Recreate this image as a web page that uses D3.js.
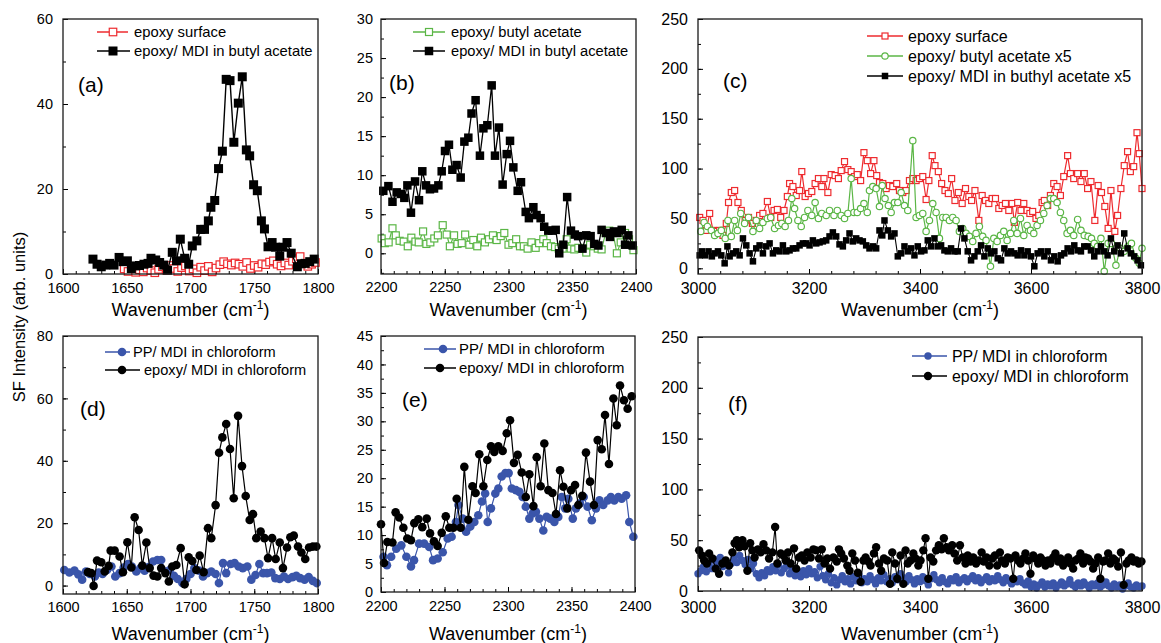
<!DOCTYPE html>
<html>
<head>
<meta charset="utf-8">
<script src="https://cdn.jsdelivr.net/npm/d3@7"></script>
<style>
body { margin: 0; background: #fff; }
svg text { font-family: "Liberation Sans", Arial, sans-serif; }
</style>
</head>
<body>
<svg id="chart" width="1161" height="643"></svg>
<script>
// ---------- data ----------
// (a) 1600-1800 cm-1
var aRedX = [1648,1651,1654,1657,1660,1663,1666,1669,1672,1675,1678,1681,1684,1687,1690,1693,1696,1699,1702,1705,1708,1711,1714,1717,1720,1723,1726,1729,1732,1735,1738,1741,1744,1747,1750,1753,1756,1759,1762,1765,1768,1771,1774,1777,1780,1783,1786,1789,1792,1795,1798];
var aRedY = [1.2,0.6,1.3,0.4,1.0,0.5,1.4,0.8,0.3,1.1,1.7,0.9,2.0,1.3,0.6,1.5,1.9,0.7,1.2,0.3,1.6,0.8,1.8,0.5,1.4,2.2,2.9,2.4,2.1,2.6,2.3,1.8,2.7,1.3,2.0,1.6,2.4,2.2,2.8,3.1,2.3,1.9,2.6,2.1,3.0,3.6,4.1,2.5,1.8,2.3,2.7];
var aBlackX = [1623.5,1626.7,1630,1633.5,1636.6,1640,1644,1647,1650.5,1653.6,1657,1660,1663.5,1666.7,1669,1672.7,1675.8,1679,1682,1685.7,1689,1692,1695.4,1698.6,1701.4,1705,1708,1711,1714,1716,1719,1722,1725,1728,1731,1734,1737.5,1740.6,1743.8,1746.4,1749.5,1752.4,1755.6,1758,1760.8,1764,1766.8,1770,1772.5,1775.7,1779,1783.8,1787,1790,1793.5,1797];
var aBlackY = [3.5,2.3,1.7,2.1,2.5,2.1,3.9,2.9,3.1,1.3,1.9,2.0,2.3,2.5,3.7,3.3,2.7,2.1,0.9,5.1,3.1,8.2,3.7,2.3,6.6,7.8,10.5,10.5,12.5,15.7,17.3,24.8,28.9,45.8,45.5,31.0,40.2,46.4,29.2,27.8,21.0,19.6,12.5,10.6,6.4,7.4,6.3,4.2,6.3,7.4,4.9,1.7,2.4,2.5,2.9,3.5];

// (b) 2200-2400 cm-1
var bGreenX = [2200.5,2203,2206,2209,2211.6,2214.6,2217.8,2221,2223.8,2227,2229.6,2233,2235.6,2238.7,2241.8,2244.6,2248.4,2251.5,2254,2257.3,2260,2263.3,2266,2269.3,2272.4,2275.5,2278.4,2281.5,2284.7,2287.8,2290.7,2293.9,2296.7,2300,2303,2306,2309,2312,2315,2318,2321.3,2324,2327.3,2330,2333.3,2336.5,2339.4,2342.5,2345.6,2348.8,2351.6,2354.8,2358,2361,2364,2367,2370,2373,2376.2,2379,2382,2385,2388,2391.4,2394.5,2398];
var bGreenY = [1.9,1.3,1.4,3.2,2.3,1.6,1.5,0.9,2.0,1.5,1.4,2.8,1.2,1.4,1.9,2.3,3.6,2.4,0.9,2.3,1.2,1.3,2.4,1.1,1.7,0.9,2.0,1.4,1.8,2.3,1.7,2.2,2.6,1.1,1.3,1.8,0.9,0.9,0.6,1.4,0.7,1.3,1.8,1.3,0.9,0.8,0.6,0.6,1.8,0.6,0.5,0.7,0.6,0.1,1.1,0.9,0.6,0.5,2.6,2.9,2.6,0.0,1.4,2.6,1.8,0.4];
var bBlackX = [2201.8,2205.8,2209,2212.3,2215.7,2218.3,2220.7,2223.5,2226.7,2229.8,2232.4,2235.3,2238.4,2241.6,2245,2247.6,2250.2,2253.3,2256,2259.3,2262.5,2265.4,2268.5,2271,2274.2,2277.6,2280.3,2283.4,2286.8,2289.4,2292.5,2295.4,2298.6,2301.2,2303.8,2307.2,2309.8,2313.5,2316,2319.5,2322,2325.2,2328,2331.2,2334.4,2337,2339.8,2343,2346,2349,2352,2354.6,2358,2361,2364.4,2367.3,2370.5,2373,2376.5,2379.6,2382.7,2385.4,2388.8,2391.4,2394,2397.4];
var bBlackY = [8.0,8.6,6.6,7.8,7.6,7.1,8.7,5.2,9.2,6.8,10.5,8.7,8.2,8.3,8.7,10.5,13.1,13.9,10.7,11.3,9.7,14.3,14.8,17.9,19.6,12.5,16.0,16.4,21.5,12.5,16.1,8.8,12.7,14.4,11.0,8.0,9.1,5.3,4.5,5.9,4.9,4.5,3.4,2.9,2.9,3.0,0,1.1,7.2,2.9,2.4,2.2,0.6,2.3,2.2,1.2,1.0,3.0,2.6,2.1,2.8,2.6,3.0,1.1,2.3,1.0];

// (c) 3000-3800 cm-1
var cRedX = [3003,3009,3015,3021,3027,3033,3039,3045,3051,3055,3060,3066,3072,3078,3085,3091,3098,3105,3111,3117,3125,3131,3137,3143,3149,3155,3161,3165,3171,3177,3183,3187,3193,3199,3205,3211,3217,3223,3227,3234,3240,3247,3253,3258,3264,3270,3276,3282,3287,3293,3299,3305,3311,3317,3322,3327,3333,3339,3345,3351,3358,3363,3369,3375,3381,3387,3393,3399,3405,3411,3416,3422,3427,3433,3439,3445,3451,3457,3463,3469,3476,3482,3488,3493,3499,3506,3512,3518,3524,3530,3536,3542,3548,3554,3560,3566,3570,3576,3582,3587,3593,3598,3603,3609,3614,3620,3624,3630,3635,3641,3647,3653,3659,3666,3671,3677,3684,3690,3696,3702,3708,3715,3721,3727,3733,3739,3744,3751,3756,3762,3768,3774,3779,3785,3791,3795,3800];
var cRedY = [51,48,38,55,38,37,38,33,45,66,76,78,66,58,48,51,45,48,53,55,67,51,58,59,51,58,72,85,82,73,78,97,72,75,77,85,90,82,90,76,94,93,90,98,107,99,97,92,94,88,116,108,95,108,93,86,85,80,83,82,85,78,76,78,88,90,88,90,92,69,88,113,103,97,85,78,75,90,68,76,65,80,72,68,78,48,73,68,65,70,70,60,63,65,58,65,46,66,58,65,58,55,57,50,53,66,68,63,73,85,82,73,92,113,95,90,95,87,95,80,87,48,83,76,62,40,78,37,53,80,103,117,97,102,136,115,80];
var cGreenX = [3005,3011,3017,3024,3030,3036,3042,3049,3054,3060,3066,3071,3077,3084,3091,3099,3105,3111,3117,3125,3131,3138,3145,3151,3157,3163,3169,3174,3180,3186,3192,3198,3205,3211,3217,3223,3231,3237,3245,3251,3258,3264,3270,3276,3281,3287,3293,3299,3305,3309,3315,3321,3327,3332,3337,3343,3348,3354,3360,3366,3372,3378,3387,3393,3399,3405,3411,3417,3423,3429,3435,3441,3447,3453,3459,3465,3471,3477,3483,3489,3495,3501,3507,3513,3519,3527,3533,3539,3545,3551,3557,3563,3569,3575,3581,3587,3593,3599,3605,3611,3617,3623,3629,3635,3641,3647,3653,3659,3665,3671,3677,3684,3690,3696,3703,3709,3714,3720,3726,3732,3739,3745,3753,3761,3768,3775,3781,3789,3795,3800];
var cGreenY = [37,46,42,38,33,35,38,30,48,32,48,38,55,45,51,37,48,40,46,50,51,40,43,45,42,48,70,60,48,42,51,58,53,66,50,55,53,58,53,58,53,50,55,90,56,56,60,65,56,78,82,80,62,83,70,63,56,66,66,76,63,58,128,51,53,55,37,48,65,56,30,51,51,48,51,48,37,40,35,32,27,35,42,32,28,2,30,27,33,37,28,35,48,35,50,33,43,38,35,43,48,55,63,70,70,66,56,48,35,38,33,49,38,33,32,30,25,22,30,-3,25,25,3,20,17,22,25,10,5,20];
var cBlackX = [3003,3007,3013,3019,3025,3030,3036,3042,3048,3053,3057,3063,3069,3075,3081,3087,3093,3099,3105,3111,3117,3123,3129,3135,3141,3147,3153,3159,3165,3171,3177,3183,3189,3195,3201,3207,3213,3219,3225,3231,3237,3243,3249,3255,3261,3267,3273,3279,3285,3291,3297,3303,3309,3315,3321,3327,3332,3336,3342,3348,3354,3360,3366,3372,3378,3384,3390,3396,3402,3408,3414,3420,3426,3432,3438,3444,3450,3456,3462,3468,3474,3480,3486,3492,3498,3504,3510,3516,3522,3528,3534,3540,3546,3552,3558,3564,3570,3576,3582,3588,3594,3600,3606,3612,3618,3624,3630,3636,3642,3648,3654,3660,3666,3672,3678,3684,3690,3696,3702,3708,3714,3720,3726,3732,3738,3744,3750,3756,3762,3768,3774,3780,3786,3792,3798];
var cBlackY = [13,17,13,17,12,15,17,13,5,22,12,15,17,13,30,23,15,7,20,23,15,22,25,15,18,17,23,17,18,20,20,23,25,25,23,28,25,26,27,28,32,36,32,24,22,28,35,27,30,28,27,23,20,22,20,38,33,48,38,32,35,12,15,22,17,20,13,22,17,18,28,22,30,22,23,18,17,20,17,17,40,30,17,8,12,17,23,12,20,15,17,10,8,20,15,17,15,13,18,13,17,12,2,15,17,12,17,8,12,7,13,15,20,17,23,18,17,22,22,18,12,17,22,17,13,30,17,23,15,35,20,15,12,8,3];

// (d) 1600-1800 cm-1
var dBlueX = [1601,1605,1609,1612,1615,1618,1621,1625,1628,1631,1634.5,1638,1641,1644.4,1647.6,1651,1654,1657.5,1660.7,1664,1667,1670.6,1674,1677,1680.5,1683.7,1687,1690,1693.6,1696.7,1700,1703,1706.7,1709.8,1713,1716.3,1719.7,1722.3,1725.5,1728,1731.5,1734.6,1737.8,1741,1744.6,1747.7,1751,1754,1757,1760,1763.4,1766.5,1770,1773.3,1776.5,1780,1783,1786,1789.5,1792.7,1796,1799];
var dBlueY = [5.0,4.2,4.8,3.6,1.9,4.5,3.7,2.9,4.2,3.7,5.0,6.1,2.9,4.0,5.8,6.9,6.1,4.5,5.6,4.8,5.9,7.7,8.2,8.2,4.5,5.0,3.1,2.1,0.8,2.1,3.7,5.6,4.8,2.9,4.0,4.5,3.7,0.8,7.2,4.0,6.9,7.2,6.1,5.6,6.1,1.9,3.4,6.9,4.0,4.0,4.2,2.4,2.1,2.9,2.1,2.7,3.1,2.4,1.9,2.7,1.5,0.8];
var dBlackX = [1619.6,1622.2,1624,1626.7,1630,1632.7,1635.8,1637.4,1640.5,1644.4,1647,1650.5,1653.6,1656.2,1659.3,1662.2,1665.4,1668,1671,1674,1677,1680.3,1683,1685.7,1688.9,1692.3,1695.4,1698.6,1701.4,1704.6,1707.2,1710.3,1713.7,1716.3,1719.7,1722.4,1725,1728,1731,1733.9,1737.3,1740.4,1743.3,1746.4,1749,1751.6,1755,1758,1760.8,1764,1766.8,1770,1772.5,1775.7,1778.3,1781,1784.3,1787,1790,1793,1796,1798.7];
var dBlackY = [4.3,4.0,-0.1,8.0,7.5,4.5,6.3,11.2,11.2,9.3,4.3,13.9,5.8,21.9,17.8,6.4,13.8,5.6,3.2,2.9,5.6,4.0,1.3,6.1,6.6,12.0,0.4,9.1,7.9,5.0,9.6,4.3,18.4,15.2,25.8,42.6,47.5,51.8,43.8,28.0,54.4,38.3,28.7,21.0,22.9,15.2,17.3,15.2,8.8,15.2,8.5,13.8,5.6,12.2,15.5,16.0,12.5,10.6,8.5,12.2,12.5,12.5];

// (e) 2200-2400 cm-1
var eBlueX = [2202,2204.7,2208,2212,2216,2220,2223.6,2226,2230,2234,2238,2241,2244.6,2248.6,2252.5,2255.6,2259,2261,2264.3,2267,2270.3,2273.5,2276.6,2279.5,2282,2284,2286.6,2290,2292.4,2295,2298,2300.5,2303,2306.3,2309,2311.5,2314,2316.8,2319.4,2322,2324.7,2327.8,2330.4,2333.3,2336.5,2339.6,2342.3,2345,2347.5,2351,2353.5,2356.7,2359.6,2362.7,2366,2369.3,2372,2375,2378.5,2381,2383.7,2386.9,2389.5,2393,2395.5,2398.7];
var eBlueY = [6.2,4.7,6.2,7.6,8.2,6.2,4.5,5.6,8.5,8.5,7.9,5.6,5.9,7.0,9.4,9.7,12.3,15.3,12.9,10.6,11.5,12.3,13.5,15.9,17.3,12.3,14.7,17.3,18.2,20.3,20.9,20.9,18.2,17.9,17.6,16.7,15.0,12.9,13.8,14.1,12.9,10.8,13.2,12.9,12.3,13.2,16.7,14.7,16.4,12.9,14.7,15.6,16.7,15.0,12.6,14.7,16.1,15.3,16.1,16.7,16.1,16.7,16.4,17.0,12.3,9.7];
var eBlackX = [2200,2202.4,2205,2209,2211.5,2214.4,2217.6,2220.7,2223.6,2226.2,2229.4,2232.5,2236,2238.6,2241.7,2244.6,2247.8,2251,2253.8,2257,2259.6,2262.7,2265.6,2268.8,2272,2274.5,2277.4,2280.6,2283.7,2286.6,2289.2,2292.4,2295.8,2299,2301.6,2304.7,2307.6,2310.8,2314,2316.8,2320,2322.6,2325.7,2328.6,2331.8,2335,2337.8,2341,2343.6,2346.7,2349.6,2352.8,2355.4,2358.5,2361.4,2364.6,2367.7,2370.6,2373.8,2376.4,2379.5,2383,2385.6,2388.2,2391.3,2394.2,2397.4];
var eBlackY = [11.9,5.1,8.8,8.7,14.0,13.1,11.3,9.4,9.1,12.1,12.8,11.4,12.9,10.3,8.9,8.1,10.4,13.3,11.3,11.3,16.4,11.3,22.0,12.7,18.6,17.4,24.2,18.6,23.2,25.6,24.6,25.6,24.8,27.9,30.2,22.7,24.1,21.0,16.7,20.7,15.1,23.7,18.6,26.1,17.9,17.4,13.7,21.4,18.5,14.7,17.9,18.8,15.3,16.9,24.5,19.4,15.3,26.7,25.1,31.1,22.5,34.0,29.3,36.3,33.7,32.2,34.4];

// (f) 3000-3800 cm-1
var fBlueX = [3000,3005,3010,3015,3020,3025,3030,3035,3040,3045,3050,3055,3060,3065,3070,3075,3080,3085,3090,3095,3100,3105,3110,3115,3120,3125,3130,3135,3140,3145,3150,3155,3160,3165,3170,3175,3180,3185,3190,3195,3200,3205,3210,3215,3220,3225,3230,3235,3240,3245,3250,3255,3260,3265,3270,3275,3280,3285,3290,3295,3300,3305,3310,3315,3320,3325,3330,3335,3340,3345,3350,3355,3360,3365,3370,3375,3380,3385,3390,3395,3400,3405,3410,3415,3420,3425,3430,3435,3440,3445,3450,3455,3460,3465,3470,3475,3480,3485,3490,3495,3500,3505,3510,3515,3520,3525,3530,3535,3540,3545,3550,3555,3560,3565,3570,3575,3580,3585,3590,3595,3600,3605,3610,3615,3620,3625,3630,3635,3640,3645,3650,3655,3660,3665,3670,3675,3680,3685,3690,3695,3700,3705,3710,3715,3720,3725,3730,3735,3740,3745,3750,3755,3760,3765,3770,3775,3780,3785,3790,3795,3800];
var fBlueY = [17,20,24,19,27,22,31,26,33,24,29,18,27,33,28,35,30,26,31,22,27,17,13,18,15,21,19,24,20,26,18,22,25,17,21,15,19,14,20,16,22,17,19,13,24,15,11,17,8,13,6,11,15,9,12,7,14,10,16,8,12,9,15,11,7,13,10,16,9,12,8,14,11,17,13,9,15,11,7,12,9,14,10,6,12,16,11,8,13,9,7,12,10,14,8,11,13,9,12,15,10,13,8,11,14,9,12,10,15,11,8,13,10,7,11,9,12,8,6,10,4,7,3,6,9,4,7,5,8,3,6,9,5,7,11,6,4,8,5,9,6,3,7,5,8,4,6,9,5,3,7,4,6,2,5,8,4,3,6,4,5];
var fBlackX = [3002,3007,3011,3016,3020,3026,3032,3038,3044,3050,3056,3062,3066,3070,3074,3080,3084,3089,3094,3098,3102,3108,3113,3118,3123,3128,3134,3139,3143,3149,3154,3158,3162,3167,3173,3177,3182,3187,3192,3197,3203,3208,3213,3218,3223,3228,3233,3238,3244,3250,3254,3258,3263,3269,3273,3278,3283,3288,3293,3298,3302,3307,3311,3317,3321,3326,3330,3335,3341,3346,3350,3355,3359,3365,3370,3374,3378,3383,3388,3392,3397,3401,3406,3410,3415,3419,3424,3429,3434,3439,3443,3448,3452,3458,3462,3467,3472,3477,3482,3486,3491,3496,3501,3506,3511,3515,3520,3525,3530,3535,3539,3544,3548,3553,3558,3563,3568,3572,3577,3581,3586,3590,3595,3599,3604,3608,3613,3617,3622,3626,3631,3635,3640,3644,3649,3653,3658,3662,3667,3671,3676,3680,3685,3689,3694,3698,3703,3707,3712,3716,3721,3725,3730,3734,3739,3743,3748,3752,3757,3762,3767,3772,3776,3781,3785,3790,3794,3799];
var fBlackY = [40,35,30,27,37,32,22,17,27,30,25,38,47,50,43,50,44,20,47,40,33,41,38,46,40,32,38,63,27,37,35,30,38,27,42,22,33,35,30,38,33,41,40,32,41,27,32,22,33,29,41,37,32,25,20,37,30,18,9,30,33,29,25,37,43,27,20,32,30,7,38,27,12,35,7,40,27,30,37,32,25,30,40,52,12,33,29,40,45,41,52,43,40,45,37,30,45,33,27,35,29,33,27,30,38,29,33,25,32,35,25,38,30,27,33,32,12,35,30,27,32,37,30,17,35,32,27,33,30,25,30,27,33,37,29,32,25,29,33,27,22,30,32,37,27,33,32,29,22,27,33,12,29,30,37,27,32,30,24,38,6,27,30,33,29,30,27,29];

// tick labels
var ticks1600 = [1600, 1650, 1700, 1750, 1800];
var ticks2200 = [2200, 2250, 2300, 2350, 2400];
var ticks3000 = [3000, 3200, 3400, 3600, 3800];
var aYTicks = [0, 20, 40, 60];
var bYTicks = [0, 5, 10, 15, 20, 25, 30];
var cYTicks = [0, 50, 100, 150, 200, 250];
var dYTicks = [0, 20, 40, 60, 80];
var eYTicks = [0, 5, 10, 15, 20, 25, 30, 35, 40, 45];
var fYTicks = [0, 50, 100, 150, 200, 250];

var RED = '#ee2b2f', GREEN = '#5bb646', BLUE = '#3a55aa', BLACK = '#000';

var svg = d3.select('#chart');

var panels = [
    {tag: '(a)', left: 63, right: 318, top: 19, bottom: 274, xDom: [1600, 1800], yDom: [0, 60],
     xTicks: ticks1600, yTicks: aYTicks, xMinor: 10, yMinor: 10, fs: 14.5, xPad: 9, yPad: 10,
     tagPos: [78, 92], xLabelY: 316,
     series: [
        {x: aRedX, y: aRedY, color: RED, shape: 'square', open: true, size: 7.5, lw: 1.2, name: 'epoxy surface', leg: [97, 128, 113, 134, 32]},
        {x: aBlackX, y: aBlackY, color: BLACK, shape: 'square', open: false, size: 9, lw: 1.4, name: 'epoxy/ MDI in butyl acetate', leg: [97, 130, 113, 134, 51]}
     ], legFs: 14.8},
    {tag: '(b)', left: 381, right: 636, top: 19, bottom: 274, xDom: [2200, 2400], yDom: [-2.65, 30],
     xTicks: ticks2200, yTicks: bYTicks, xMinor: 10, yMinor: 2.5, fs: 14.5, xPad: 8, yPad: 8,
     tagPos: [389, 90], xLabelY: 316,
     series: [
        {x: bGreenX, y: bGreenY, color: GREEN, shape: 'square', open: true, size: 7, lw: 1.2, name: 'epoxy/ butyl acetate', leg: [413, 445, 429, 451, 32]},
        {x: bBlackX, y: bBlackY, color: BLACK, shape: 'square', open: false, size: 8.5, lw: 1.3, name: 'epoxy/ MDI in butyl acetate', leg: [413, 445, 429, 451, 51]}
     ], legFs: 14.7},
    {tag: '(c)', left: 698, right: 1142, top: 19, bottom: 274, xDom: [3000, 3800], yDom: [-5.7, 250],
     xTicks: ticks3000, yTicks: cYTicks, xMinor: 40, yMinor: 25, fs: 16, xPad: 9, yPad: 10,
     tagPos: [723, 88], xLabelY: 316,
     series: [
        {x: cRedX, y: cRedY, color: RED, shape: 'square', open: true, size: 6, lw: 1.2, name: 'epoxy surface', leg: [867, 903, 885, 908, 36]},
        {x: cGreenX, y: cGreenY, color: GREEN, shape: 'circle', open: true, size: 3.2, lw: 1.2, name: 'epoxy/ butyl acetate x5', leg: [867, 903, 885, 908, 56]},
        {x: cBlackX, y: cBlackY, color: BLACK, shape: 'square', open: false, size: 6.5, lw: 1.1, name: 'epoxy/ MDI in buthyl acetate x5', leg: [867, 903, 885, 908, 76]}
     ], legFs: 16},
    {tag: '(d)', left: 63, right: 318, top: 336, bottom: 594, xDom: [1600, 1800], yDom: [-2.7, 80],
     xTicks: ticks1600, yTicks: dYTicks, xMinor: 10, yMinor: 10, fs: 14.5, xPad: 8, yPad: 10,
     tagPos: [80, 416], xLabelY: 640,
     series: [
        {x: dBlueX, y: dBlueY, color: BLUE, shape: 'circle', open: false, size: 4.3, lw: 1.2, name: 'PP/ MDI in chloroform', leg: [105, 130, 122, 133, 352]},
        {x: dBlackX, y: dBlackY, color: BLACK, shape: 'circle', open: false, size: 4.3, lw: 1.2, name: 'epoxy/ MDI in chloroform', leg: [105, 140, 122, 144, 370]}
     ], legFs: 14.6},
    {tag: '(e)', left: 381, right: 635, top: 336, bottom: 592, xDom: [2200, 2400], yDom: [0, 45],
     xTicks: ticks2200, yTicks: eYTicks, xMinor: 10, yMinor: 2.5, fs: 14.5, xPad: 9, yPad: 8,
     tagPos: [402, 407], xLabelY: 640,
     series: [
        {x: eBlueX, y: eBlueY, color: BLUE, shape: 'circle', open: false, size: 4.3, lw: 1.2, name: 'PP/ MDI in chloroform', leg: [424, 456, 443, 459, 349]},
        {x: eBlackX, y: eBlackY, color: BLACK, shape: 'circle', open: false, size: 4.3, lw: 1.2, name: 'epoxy/ MDI in chloroform', leg: [424, 456, 440, 459, 368]}
     ], legFs: 14.9},
    {tag: '(f)', left: 698, right: 1142, top: 337, bottom: 591, xDom: [3000, 3800], yDom: [0, 250],
     xTicks: ticks3000, yTicks: fYTicks, xMinor: 40, yMinor: 25, fs: 16, xPad: 11, yPad: 10,
     tagPos: [728, 411], xLabelY: 640,
     series: [
        {x: fBlueX, y: fBlueY, color: BLUE, shape: 'circle', open: false, size: 3.7, lw: 1.1, name: 'PP/ MDI in chloroform', leg: [912, 947, 928, 952, 356]},
        {x: fBlackX, y: fBlackY, color: BLACK, shape: 'circle', open: false, size: 4.2, lw: 1.1, name: 'epoxy/ MDI in chloroform', leg: [912, 947, 928, 952, 376]}
     ], legFs: 15.9}
];

function drawMarker(sel, s, cx, cy) {
    if (s.shape === 'square') {
        sel.append('rect')
            .attr('x', cx - s.size / 2).attr('y', cy - s.size / 2)
            .attr('width', s.size).attr('height', s.size)
            .attr('fill', s.open ? '#fff' : s.color)
            .attr('stroke', s.color).attr('stroke-width', s.open ? 1.2 : 0);
    } else {
        sel.append('circle')
            .attr('cx', cx).attr('cy', cy).attr('r', s.size)
            .attr('fill', s.open ? '#fff' : s.color)
            .attr('stroke', s.color).attr('stroke-width', s.open ? 1.2 : 0);
    }
}

function drawPanel(p) {
    var g = svg.append('g');
    var x = d3.scaleLinear().domain(p.xDom).range([p.left, p.right]);
    var y = d3.scaleLinear().domain(p.yDom).range([p.bottom, p.top]);
    var yStart = Math.ceil(p.yDom[0] / p.yMinor) * p.yMinor;

    // minor ticks, pointing inwards
    g.append('g').attr('transform', 'translate(0,' + p.bottom + ')')
        .call(d3.axisBottom(x).tickValues(d3.range(p.xDom[0], p.xDom[1] + 0.01, p.xMinor)).tickSize(-3).tickFormat(''))
        .call(a => a.select('.domain').remove());
    g.append('g').attr('transform', 'translate(' + p.left + ',0)')
        .call(d3.axisLeft(y).tickValues(d3.range(yStart, p.yDom[1] + 0.01, p.yMinor)).tickSize(-3).tickFormat(''))
        .call(a => a.select('.domain').remove());

    // major ticks + labels
    g.append('g').attr('transform', 'translate(0,' + p.bottom + ')')
        .call(d3.axisBottom(x).tickValues(p.xTicks).tickSize(-5).tickPadding(p.xPad).tickFormat(d3.format('d')))
        .call(a => a.select('.domain').remove())
        .attr('font-size', p.fs).attr('font-family', '"Liberation Sans", Arial, sans-serif');
    g.append('g').attr('transform', 'translate(' + p.left + ',0)')
        .call(d3.axisLeft(y).tickValues(p.yTicks).tickSize(-5).tickPadding(p.yPad).tickFormat(d3.format('d')))
        .call(a => a.select('.domain').remove())
        .attr('font-size', p.fs).attr('font-family', '"Liberation Sans", Arial, sans-serif');
    g.selectAll('.tick line').attr('stroke-width', 1);

    // series
    p.series.forEach(function(s) {
        var pts = d3.zip(s.x, s.y);
        g.append('path').datum(pts)
            .attr('fill', 'none').attr('stroke', s.color).attr('stroke-width', s.lw)
            .attr('d', d3.line().x(d => x(d[0])).y(d => y(d[1])));
        var mk = g.append('g');
        pts.forEach(d => drawMarker(mk, s, x(d[0]), y(d[1])));
    });

    // frame
    g.append('rect')
        .attr('x', p.left).attr('y', p.top)
        .attr('width', p.right - p.left).attr('height', p.bottom - p.top)
        .attr('fill', 'none').attr('stroke', '#1a1a1a').attr('stroke-width', 1.3);

    // legend
    p.series.forEach(function(s) {
        var l = s.leg;
        g.append('line').attr('x1', l[0]).attr('x2', l[1]).attr('y1', l[4]).attr('y2', l[4])
            .attr('stroke', s.color).attr('stroke-width', 1.5);
        drawMarker(g, s, l[2], l[4]);
        g.append('text').attr('x', l[3]).attr('y', l[4]).attr('dy', '0.36em')
            .attr('font-size', p.legFs).text(s.name);
    });

    // panel tag
    g.append('text').attr('x', p.tagPos[0]).attr('y', p.tagPos[1])
        .attr('font-size', 21).text(p.tag);

    // x label
    var xl = g.append('text').attr('x', (p.left + p.right) / 2).attr('y', p.xLabelY)
        .attr('text-anchor', 'middle').attr('font-size', 18);
    xl.append('tspan').text('Wavenumber (cm');
    xl.append('tspan').attr('dy', -7).attr('font-size', 12).text('-1');
    xl.append('tspan').attr('dy', 7).text(')');
}

panels.forEach(drawPanel);

svg.append('text')
    .attr('transform', 'translate(25,317) rotate(-90)')
    .attr('text-anchor', 'middle').attr('font-size', 16.5)
    .text('SF Intensity (arb. units)');
</script>
</body>
</html>
